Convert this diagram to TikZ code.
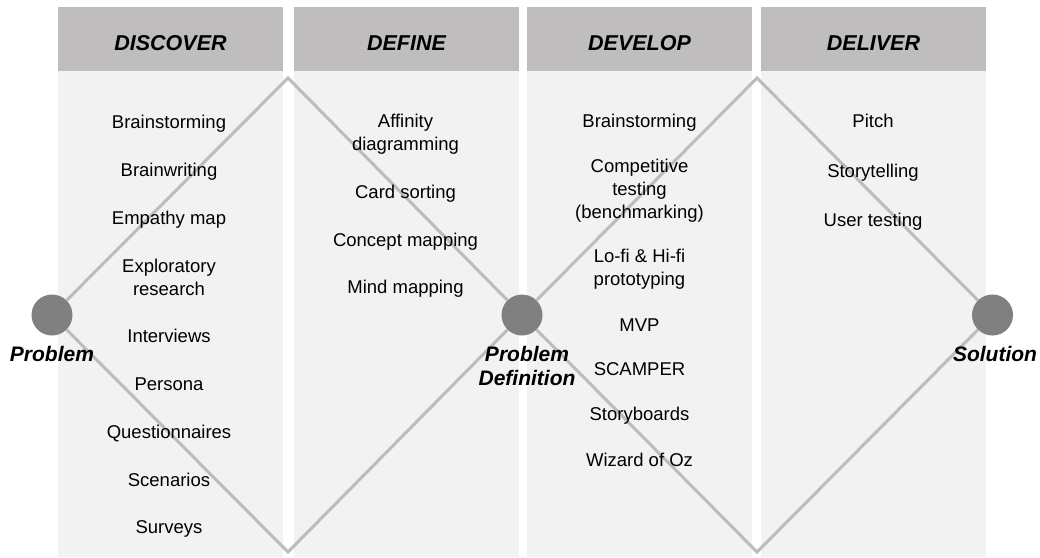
\documentclass[tikz,border=0pt]{standalone}
\usepackage{fontspec}
\setmainfont{Liberation Sans}
\usepackage{tikz}
\definecolor{myheadgray}{RGB}{191,189,190}
\definecolor{mybodygray}{RGB}{242,242,242}
\definecolor{mylinegray}{RGB}{188,188,188}
\definecolor{mydotgray}{RGB}{128,128,128}
\usetikzlibrary{positioning,backgrounds}
\tikzstyle{dot}=[fill=mydotgray,circle,minimum size=41pt,inner sep=0pt]

\begin{document}
\begin{tikzpicture}[
  x=1pt, y=-1pt,
  phase/.style={
    fill=myheadgray,
    minimum width=225pt,
    minimum height=64pt,
    text height=23pt,
    inner sep=0pt,
    font=\fontsize{21.5}{24}\selectfont\bfseries\itshape
    },
  method/.style={
    anchor=base,
    align=center,
    inner sep=0pt,
    font=\fontsize{18.5}{23}\selectfont
    },
  stage/.style={
    align=center,
    inner sep=0pt,
    font=\fontsize{21}{24}\selectfont\bfseries\itshape
    },
  diag/.style={draw=mylinegray, line width=3pt}
]
\useasboundingbox (0,0) rectangle (1040,557);

% headers
\node [phase] (hdisc) at (170.5,39) {DISCOVER};
\node [phase] (hdef) at (406.5,39) {DEFINE};
\node [phase] (hdev) at (639.5,39) {DEVELOP};
\node [phase] (hdel) at (873.5,39) {DELIVER};

% the three points
\node [dot] (prob) at (52,315) {};
\node [dot] (probdef) at (522,315) {};
\node [dot] (sol) at (992.5,315) {};
\node [stage, below=10pt of prob] (lprob) {Problem};
\node [stage, below=10pt of probdef, xshift=5pt] (lprobdef) {Problem\\Definition};
\node [stage, below=10pt of sol, xshift=2.5pt] (lsol) {Solution};

\coordinate (top1) at (288,78);
\coordinate (bot1) at (288,552);
\coordinate (top2) at (757,78);
\coordinate (bot2) at (757,552);

% discover (base = last line)
\node [method] (disc1) at (169,128) {Brainstorming};
\node [method] (disc2) at (169,176) {Brainwriting};
\node [method] (disc3) at (169,224) {Empathy map};
\node [method] (disc4) at (169,295) {Exploratory\\research};
\node [method] (disc5) at (169,342) {Interviews};
\node [method] (disc6) at (169,390) {Persona};
\node [method] (disc7) at (169,438) {Questionnaires};
\node [method] (disc8) at (169,486) {Scenarios};
\node [method] (disc9) at (169,533) {Surveys};

% define
\node [method] (def1) at (405.5,150) {Affinity\\diagramming};
\node [method] (def2) at (405.5,198) {Card sorting};
\node [method] (def3) at (405.5,246) {Concept mapping};
\node [method] (def4) at (405.5,293) {Mind mapping};

% develop
\node [method] (dev1) at (639.5,127) {Brainstorming};
\node [method] (dev2) at (639.5,218) {Competitive\\testing\\(benchmarking)};
\node [method] (dev3) at (639.5,285) {Lo-fi \& Hi-fi\\prototyping};
\node [method] (dev4) at (639.5,331) {MVP};
\node [method] (dev5) at (639.5,375) {SCAMPER};
\node [method] (dev6) at (639.5,420) {Storyboards};
\node [method] (dev7) at (639.5,466) {Wizard of Oz};

% deliver
\node [method] (del1) at (873,127) {Pitch};
\node [method] (del2) at (873,177) {Storytelling};
\node [method] (del3) at (873,226) {User testing};

\begin{scope}[on background layer]
  \fill [mybodygray] (hdisc.south west) rectangle (hdisc.east |- 0,557);
  \fill [mybodygray] (hdef.south west) rectangle (hdef.east |- 0,557);
  \fill [mybodygray] (hdev.south west) rectangle (hdev.east |- 0,557);
  \fill [mybodygray] (hdel.south west) rectangle (hdel.east |- 0,557);
  \draw [diag] (prob) -- (top1) -- (probdef) -- (bot1) -- (prob);
  \draw [diag] (probdef) -- (top2) -- (sol) -- (bot2) -- (probdef);
\end{scope}

\end{tikzpicture}
\end{document}
